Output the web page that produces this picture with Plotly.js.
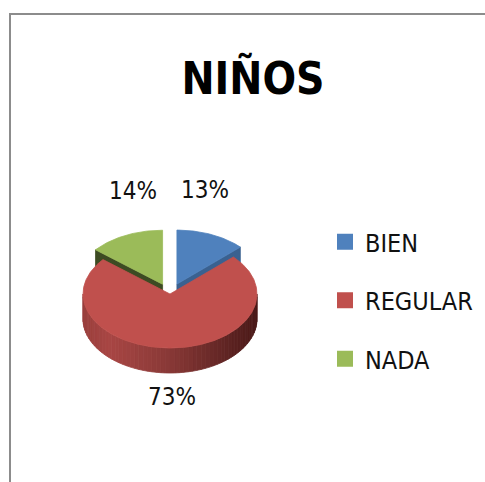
<!DOCTYPE html>
<html>
<head>
<meta charset="utf-8">
<script src="https://cdn.plot.ly/plotly-3.0.1.min.js"></script>
<style>html,body{margin:0;padding:0;background:#fff;}#chart{width:485px;height:482px;}</style>
</head>
<body>
<div id="chart"></div>
<script>
// ---- data ----
const categories = ['BIEN', 'REGULAR', 'NADA'];
const values = [13, 73, 14];
const percentLabels = ['13%', '73%', '14%'];
const topColors = ['#4F81BD', '#C0504D', '#9BBB59'];
const cutColors = ['#3A6190', '#8E3B39', '#3D4B23'];
const explode = [0.2, 0, 0.2];
const chartTitle = 'NIÑOS';

// ---- geometry of the tilted pie (pixel space) ----
const W = 485, H = 482;
const CX = 170, CY = 294, RX = 87, RY = 54, DEPTH = 25;
const FONT = '"DejaVu Sans Condensed", "Liberation Sans Narrow", "Liberation Sans", sans-serif';

const rad = d => d * Math.PI / 180;
function pt(theta, r, ox, oy, h) {
  return [CX + ox + r * RX * Math.sin(rad(theta)), CY + oy - r * RY * Math.cos(rad(theta)) + h];
}
function poly(pts, color) {
  return {
    type: 'scatter', mode: 'lines', fill: 'toself',
    x: pts.map(p => p[0]), y: pts.map(p => p[1]),
    fillcolor: color, line: {color: color, width: 0.8},
    hoverinfo: 'skip', showlegend: false
  };
}
function hexToRgb(h) { const n = parseInt(h.slice(1), 16); return [(n >> 16) & 255, (n >> 8) & 255, n & 255]; }
const sideStops = [[0, '#9A3F3D'], [0.15, '#A84644'], [0.5, '#883836'], [1, '#4A1A19']];
function sideColor(t) {
  for (let i = 1; i < sideStops.length; i++) {
    if (t <= sideStops[i][0]) {
      const [t0, c0] = sideStops[i - 1], [t1, c1] = sideStops[i];
      const f = (t - t0) / (t1 - t0), a = hexToRgb(c0), b = hexToRgb(c1);
      return 'rgb(' + a.map((v, k) => Math.round(v + (b[k] - v) * f)).join(',') + ')';
    }
  }
  return sideStops[sideStops.length - 1][1];
}

const total = values.reduce((a, b) => a + b, 0);
const slices = [];
let acc = 0;
values.forEach((v, i) => {
  const a0 = acc / total * 360, a1 = (acc + v) / total * 360;
  acc += v;
  const mid = (a0 + a1) / 2;
  const ox = explode[i] * RX * Math.sin(rad(mid)), oy = -explode[i] * RY * Math.cos(rad(mid));
  slices.push({i, a0, a1, mid, ox, oy});
});

function sliceTraces(s) {
  const out = [];
  const cut = a => {
    const c0 = pt(a, 0, s.ox, s.oy, 0), e0 = pt(a, 1, s.ox, s.oy, 0);
    const e1 = pt(a, 1, s.ox, s.oy, DEPTH), c1 = pt(a, 0, s.ox, s.oy, DEPTH);
    out.push(poly([c0, e0, e1, c1, c0], cutColors[s.i]));
  };
  if (Math.cos(rad(s.a0 - 90)) < -1e-6) cut(s.a0);
  if (Math.cos(rad(s.a1 + 90)) < -1e-6) cut(s.a1);
  const s0 = Math.max(s.a0, 90), s1 = Math.min(s.a1, 270);
  if (s1 > s0) {
    const n = Math.ceil((s1 - s0) / 3), step = (s1 - s0) / n;
    for (let k = 0; k < n; k++) {
      const b0 = s0 + k * step, b1 = b0 + step, pts = [];
      for (let j = 0; j <= 4; j++) pts.push(pt(b0 + step * j / 4, 1, s.ox, s.oy, 0));
      for (let j = 4; j >= 0; j--) pts.push(pt(b0 + step * j / 4, 1, s.ox, s.oy, DEPTH));
      pts.push(pts[0]);
      const xm = pt((b0 + b1) / 2, 1, s.ox, s.oy, 0)[0];
      out.push(poly(pts, sideColor((xm - (CX - RX)) / (2 * RX))));
    }
  }
  const top = [pt(0, 0, s.ox, s.oy, 0)];
  const n = Math.max(2, Math.ceil((s.a1 - s.a0) / 1));
  for (let j = 0; j <= n; j++) top.push(pt(s.a0 + (s.a1 - s.a0) * j / n, 1, s.ox, s.oy, 0));
  top.push(top[0]);
  out.push(poly(top, topColors[s.i]));
  return out;
}

const traces = [];
slices.filter(s => Math.cos(rad(s.mid)) > 0).forEach(s => traces.push(...sliceTraces(s)));
slices.filter(s => Math.cos(rad(s.mid)) <= 0).forEach(s => traces.push(...sliceTraces(s)));

// legend entries
categories.forEach((c, i) => traces.push({
  type: 'scatter', mode: 'markers', x: [null], y: [null], name: c,
  legendgroup: c, marker: {symbol: 'square', size: 16, color: topColors[i]},
  hoverinfo: 'skip'
}));

// percentage labels placed from each slice's middle angle
const annotations = slices.map(s => {
  const p = [CX + s.ox + 0.8 * RX * Math.sin(rad(s.mid)), CY + s.oy - 1.9 * RY * Math.cos(rad(s.mid))];
  return {x: p[0], y: p[1], xref: 'x', yref: 'y', text: percentLabels[s.i], showarrow: false,
          xanchor: 'center', yanchor: 'middle', font: {family: FONT, size: 24, color: '#111'}};
});

const layout = {
  width: W, height: H,
  margin: {l: 0, r: 0, t: 0, b: 0},
  paper_bgcolor: '#fff', plot_bgcolor: '#fff',
  xaxis: {range: [0, W], visible: false, fixedrange: true},
  yaxis: {range: [H, 0], visible: false, fixedrange: true},
  title: {text: chartTitle, x: 253 / W, xanchor: 'center', y: 1 - 79 / H, yanchor: 'middle', yref: 'container',
          font: {family: FONT, size: 44, weight: 700, color: '#000'}},
  showlegend: true,
  legend: {x: 325 / W, xanchor: 'left', y: 1 - 219 / H, yanchor: 'top', traceorder: 'grouped', tracegroupgap: 23,
           font: {family: FONT, size: 25, color: '#111'}, bgcolor: 'rgba(0,0,0,0)', itemclick: false, itemdoubleclick: false},
  annotations: annotations,
  shapes: [{type: 'rect', xref: 'x', yref: 'y', x0: 10, y0: 14, x1: W + 20, y1: H + 20,
            line: {color: '#8C8C8C', width: 2}, fillcolor: 'rgba(0,0,0,0)', layer: 'below'}]
};

Plotly.newPlot('chart', traces, layout, {displayModeBar: false, staticPlot: true});
</script>
</body>
</html>
